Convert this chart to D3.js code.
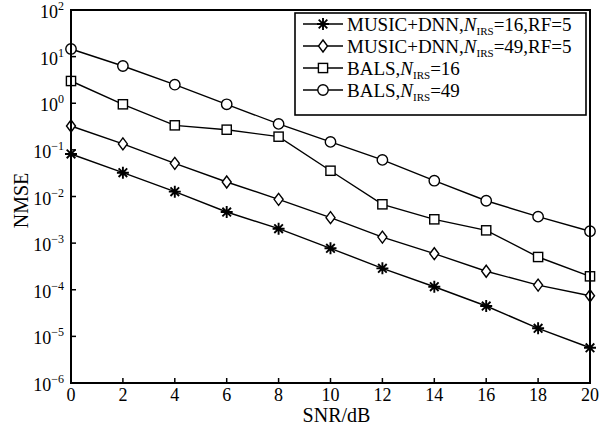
<!DOCTYPE html>
<html>
<head>
<meta charset="utf-8">
<script src="https://cdn.jsdelivr.net/npm/d3@7"></script>
<style>
  body { margin: 0; background: #fff; }
  svg { font-family: "Liberation Serif", "Times New Roman", serif; }
</style>
</head>
<body>
<svg id="chart" width="613" height="428"></svg>
<script>
// Data
const snr = [0, 2, 4, 6, 8, 10, 12, 14, 16, 18, 20];
const musicDnn16 = [0.0816, 0.0324, 0.0127, 0.00465, 0.00204, 0.000774, 0.000288, 0.000116, 0.0000448, 0.0000149, 0.0000057];
const musicDnn49 = [0.325, 0.134, 0.0515, 0.0205, 0.0087, 0.00352, 0.00135, 0.000593, 0.000249, 0.000126, 0.0000745];
const bals16 = [3.0, 0.95, 0.336, 0.271, 0.192, 0.0357, 0.0068, 0.00324, 0.00188, 0.000504, 0.000194];
const bals49 = [14.6, 6.3, 2.5, 0.95, 0.36, 0.148, 0.061, 0.0218, 0.0081, 0.0037, 0.0018];
const xTicks = [0, 2, 4, 6, 8, 10, 12, 14, 16, 18, 20];
const yExps = [2, 1, 0, -1, -2, -3, -4, -5, -6];

const seriesList = [
  { pre: "MUSIC+DNN,", post: "=16,RF=5", values: musicDnn16, marker: "star" },
  { pre: "MUSIC+DNN,", post: "=49,RF=5", values: musicDnn49, marker: "diamond" },
  { pre: "BALS,", post: "=16", values: bals16, marker: "square" },
  { pre: "BALS,", post: "=49", values: bals49, marker: "circle" }
];

const svg = d3.select("#chart");
const m = { left: 71, top: 10, right: 590, bottom: 383 };

const x = d3.scaleLinear().domain([0, 20]).range([m.left, m.right]);
const y = d3.scaleLog().domain([1e-6, 1e2]).range([m.bottom, m.top]);

// markers
function drawMarker(g, type, cx, cy) {
  if (type === "circle") {
    g.append("circle").attr("cx", cx).attr("cy", cy).attr("r", 5.2)
      .attr("fill", "#fff").attr("stroke", "#000").attr("stroke-width", 1.4);
  } else if (type === "square") {
    g.append("rect").attr("x", cx - 4.6).attr("y", cy - 4.6).attr("width", 9.2).attr("height", 9.2)
      .attr("fill", "#fff").attr("stroke", "#000").attr("stroke-width", 1.4);
  } else if (type === "diamond") {
    g.append("path")
      .attr("d", `M${cx},${cy - 6}L${cx + 4.5},${cy}L${cx},${cy + 6}L${cx - 4.5},${cy}Z`)
      .attr("fill", "#fff").attr("stroke", "#000").attr("stroke-width", 1.4);
  } else {
    const r = 6, d = 4.3;
    g.append("path")
      .attr("d", `M${cx - r},${cy}H${cx + r}M${cx},${cy - r}V${cy + r}` +
        `M${cx - d},${cy - d}L${cx + d},${cy + d}M${cx - d},${cy + d}L${cx + d},${cy - d}`)
      .attr("fill", "none").attr("stroke", "#000").attr("stroke-width", 1.9);
  }
}

const line = d3.line().x(d => x(d[0])).y(d => y(d[1]));

// series
seriesList.forEach(s => {
  const pts = snr.map((v, i) => [v, s.values[i]]);
  svg.append("path").datum(pts).attr("d", line)
    .attr("fill", "none").attr("stroke", "#000").attr("stroke-width", 1.4);
  const g = svg.append("g");
  pts.forEach(p => drawMarker(g, s.marker, x(p[0]), y(p[1])));
});

// frame
svg.append("rect").attr("x", m.left).attr("y", m.top)
  .attr("width", m.right - m.left).attr("height", m.bottom - m.top)
  .attr("fill", "none").attr("stroke", "#000").attr("stroke-width", 2);

// x ticks
const xg = svg.append("g");
xTicks.forEach(t => {
  xg.append("line").attr("x1", x(t)).attr("x2", x(t)).attr("y1", m.bottom).attr("y2", m.bottom - 5)
    .attr("stroke", "#000").attr("stroke-width", 1.5);
  xg.append("text").attr("x", x(t)).attr("y", m.bottom + 18)
    .attr("text-anchor", "middle").attr("font-size", 18).text(t);
});

// y ticks
const yg = svg.append("g");
yExps.forEach(e => {
  const py = y(Math.pow(10, e));
  yg.append("line").attr("x1", m.left).attr("x2", m.left + 5).attr("y1", py).attr("y2", py)
    .attr("stroke", "#000").attr("stroke-width", 1.5);
  const t = yg.append("text").attr("x", 64).attr("y", py + 8)
    .attr("text-anchor", "end").attr("font-size", 18);
  t.append("tspan").text("10");
  t.append("tspan").attr("dy", -8).attr("font-size", 12)
    .text(e < 0 ? "\u2212" + Math.abs(e) : String(e));
});

// axis titles
svg.append("text").attr("x", (m.left + m.right) / 2 + 6).attr("y", 422)
  .attr("text-anchor", "middle").attr("font-size", 20).text("SNR/dB");
svg.append("text").attr("transform", `translate(28,${(m.top + m.bottom) / 2 + 4}) rotate(-90)`)
  .attr("text-anchor", "middle").attr("font-size", 20).text("NMSE");

// legend
const lg = svg.append("g");
lg.append("rect").attr("x", 295).attr("y", 13).attr("width", 291).attr("height", 102)
  .attr("fill", "#fff").attr("stroke", "#000").attr("stroke-width", 1.6);
seriesList.forEach((s, i) => {
  const cy = 24 + i * 22;
  lg.append("line").attr("x1", 303).attr("x2", 343).attr("y1", cy).attr("y2", cy)
    .attr("stroke", "#000").attr("stroke-width", 1.4);
  drawMarker(lg, s.marker, 323, cy);
  const t = lg.append("text").attr("x", 347).attr("y", cy + 7).attr("font-size", 19);
  t.append("tspan").text(s.pre);
  t.append("tspan").attr("font-style", "italic").text("N");
  t.append("tspan").attr("dy", 4).attr("font-size", 11).text("IRS");
  t.append("tspan").attr("dy", -4).text(s.post);
});
</script>
</body>
</html>
